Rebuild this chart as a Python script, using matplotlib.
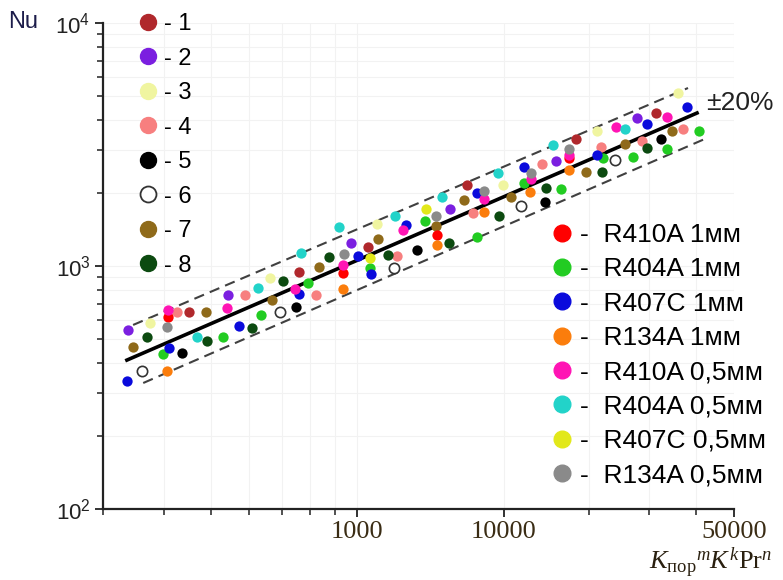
import numpy as np
import matplotlib
matplotlib.use("Agg")
import matplotlib.pyplot as plt
from matplotlib.lines import Line2D
from matplotlib.ticker import FixedLocator, FixedFormatter, NullFormatter

plt.rcParams['font.family'] = ['Liberation Sans', 'DejaVu Sans']
plt.rcParams['mathtext.fontset'] = 'custom'
plt.rcParams['mathtext.rm'] = 'Liberation Serif'
plt.rcParams['mathtext.it'] = 'Liberation Serif:italic'
plt.rcParams['mathtext.bf'] = 'Liberation Serif:bold'

# series 1..8 (legend on the left)
s1_x = [451, 761, 1188, 5602, 17990, 31310]
s1_nu = [647, 945, 1197, 2154, 3331, 4262]
s2_x = [338, 543, 974, 4293, 15280, 27660]
s2_nu = [545, 760, 1243, 1717, 2705, 4066]
s3_x = [375, 663, 1368, 9844, 21110, 35820]
s3_nu = [583, 893, 1489, 2154, 3594, 5151]
s4_x = [426, 589, 825, 1872, 6153, 13630, 21690, 28620, 36940]
s4_nu = [647, 760, 760, 1099, 1652, 2629, 3089, 3269, 3663]
s5_x = [437, 750, 2560, 13970, 32290]
s5_nu = [439, 678, 1163, 1834, 3331]
s6_x = [361, 695, 1785, 11490, 23840]
s6_nu = [370, 647, 981, 1766, 2731]
s7_x = [346, 489, 669, 836, 1389, 3447, 5344, 10590, 19510, 25510, 34530]
s7_nu = [464, 647, 725, 991, 1291, 1461, 1869, 1923, 2437, 3178, 3594]
s8_x = [370, 491, 609, 705, 877, 1625, 4226, 9247, 14080, 21840, 29600]
s8_nu = [510, 491, 556, 868, 1089, 1110, 1243, 1606, 2094, 2437, 3060]

# refrigerants (legend on the right)
r410a_1_x = [408, 937, 3501, 16990]
r410a_1_nu = [617, 936, 1341, 2783]
r404a_1_x = [399, 530, 635, 794, 1226, 2901, 6551, 11770, 15920, 21980, 26920, 33490, 40710]
r404a_1_nu = [434, 510, 629, 851, 981, 1532, 1316, 2196, 2075, 2783, 2809, 3031, 3594]
r407c_1_x = [336, 410, 572, 761, 1016, 1245, 2154, 6551, 11770, 21110, 29600, 37870]
r407c_1_nu = [336, 460, 566, 767, 1099, 927, 1475, 1997, 2555, 2862, 3841, 4511]
r134a_1_x = [407, 937, 3501, 7310, 12360, 16990]
r134a_1_nu = [370, 804, 1220, 1668, 2016, 2484]
r410a_05_x = [408, 541, 746, 937, 2056, 7310, 12460, 16990, 24010, 33490]
r410a_05_nu = [659, 672, 804, 1009, 1406, 1887, 2280, 2862, 3733, 4104]
r404a_05_x = [469, 626, 768, 920, 1813, 3786, 9103, 14910, 25510]
r404a_05_nu = [510, 812, 1131, 1447, 1606, 1923, 2414, 3148, 3663]
r407c_05_x = [1226, 2947]
r407c_05_nu = [1079, 1717]
r134a_05_x = [407, 942, 3447, 7310, 12460, 16990]
r134a_05_nu = [561, 1120, 1606, 2035, 2414, 3031]

# correlation line and band
fit_x = [336, 40240]
fit_nu = [410, 4262]
upper_x = [346, 38090]
upper_nu = [572, 5401]
lower_x = [363, 42670]
lower_nu = [330, 3363]

left_labels = ['- 1', '- 2', '- 3', '- 4', '- 5', '- 6', '- 7', '- 8']
right_labels = ['R410A 1мм', 'R404A 1мм', 'R407C 1мм', 'R134A 1мм',
                'R410A 0,5мм', 'R404A 0,5мм', 'R407C 0,5мм', 'R134A 0,5мм']
x_major = [1000, 10000, 50000]
x_major_labels = ['1000', '10000', '50000']
x_minor = [300, 400, 500, 600, 700, 800, 900, 20000, 30000, 40000]

# the x axis of the source figure is not uniformly logarithmic:
# piecewise-log mapping through the tick positions
LOG_KNOTS = np.log10([300, 1000, 10000, 20000, 30000, 40000, 50000])
PX_KNOTS = np.array([0, 254, 401, 486, 546, 593, 631], dtype=float)


def fwd(x):
    x = np.asarray(x, dtype=float)
    with np.errstate(divide='ignore', invalid='ignore'):
        lx = np.log10(np.where(x > 0, x, 1e-300))
    return np.interp(lx, LOG_KNOTS, PX_KNOTS)


def inv(v):
    return 10 ** np.interp(np.asarray(v, dtype=float), PX_KNOTS, LOG_KNOTS)


W, H = 783, 580
fig = plt.figure(figsize=(W / 100, H / 100), dpi=100)
ax = fig.add_axes([103 / W, 1 - 509 / H, 631 / W, 486 / H])
ax.set_xscale('function', functions=(fwd, inv))
ax.set_yscale('log')
ax.set_xlim(300, 50000)
ax.set_ylim(100, 10000)

ax.xaxis.set_major_locator(FixedLocator(x_major))
ax.xaxis.set_major_formatter(FixedFormatter(x_major_labels))
ax.xaxis.set_minor_locator(FixedLocator(x_minor))
ax.xaxis.set_minor_formatter(NullFormatter())

ax.grid(True, which='both', color='#f2f2f2', lw=0.8, zorder=0)
for s in ['top', 'right']:
    ax.spines[s].set_visible(False)
for s in ['left', 'bottom']:
    ax.spines[s].set_linewidth(1.6)
    ax.spines[s].set_color('#222222')
ax.tick_params(which='major', direction='out', length=6, width=1.3, colors='#222222')
ax.tick_params(which='minor', direction='out', length=4, width=1.1, colors='#222222')
ax.tick_params(axis='y', labelsize=16, pad=3)
ax.tick_params(axis='x', labelsize=19, pad=3, labelcolor='#3a2c14')
for lab in ax.get_xticklabels():
    lab.set_family('Liberation Serif')

ax.plot(fit_x, fit_nu, color='black', lw=2.6, zorder=2)
ax.plot(upper_x, upper_nu, color='#404040', lw=1.5, ls=(0, (5, 3)), zorder=2)
ax.plot(lower_x, lower_nu, color='#404040', lw=1.5, ls=(0, (5, 3)), zorder=2)

left_series = [
    (s1_x, s1_nu, '#b0282c'), (s2_x, s2_nu, '#7b1fe0'), (s3_x, s3_nu, '#f0f5a0'),
    (s4_x, s4_nu, '#f77f7f'), (s5_x, s5_nu, '#000000'), (s6_x, s6_nu, 'white'),
    (s7_x, s7_nu, '#8f6a1a'), (s8_x, s8_nu, '#0c4a10'),
]
right_series = [
    (r410a_1_x, r410a_1_nu, '#ff0000'), (r404a_1_x, r404a_1_nu, '#22cc22'),
    (r407c_1_x, r407c_1_nu, '#0a0adc'), (r134a_1_x, r134a_1_nu, '#fb7d0c'),
    (r410a_05_x, r410a_05_nu, '#ff14b4'), (r404a_05_x, r404a_05_nu, '#22d3c9'),
    (r407c_05_x, r407c_05_nu, '#e2e81a'), (r134a_05_x, r134a_05_nu, '#8a8a8a'),
]
ms = 55
for x, y, c in left_series + right_series:
    if c == 'white':
        ax.scatter(x, y, s=ms, facecolor='white', edgecolor='#333333', lw=1.2, zorder=3)
    else:
        ax.scatter(x, y, s=ms, color=c, lw=0, zorder=3)

ax.text(42420, 4687, '±20%', fontsize=19, ha='left', va='center', color='#222222')

h1 = []
for (_, _, c), lab in zip(left_series, left_labels):
    if c == 'white':
        h1.append(Line2D([], [], ls='', marker='o', ms=11.5, mfc='white', mec='#333333', mew=1.3, label=lab))
    else:
        h1.append(Line2D([], [], ls='', marker='o', ms=11.5, mfc=c, mec=c, label=lab))
leg1 = ax.legend(handles=h1, loc='upper left', bbox_to_anchor=(136 / W, 1 - 13 / H),
                 bbox_transform=fig.transFigure, frameon=False, fontsize=17,
                 handlelength=1.0, handletextpad=0.2, labelspacing=0.53,
                 borderpad=0, borderaxespad=0)
ax.add_artist(leg1)

h2 = [Line2D([], [], ls='', marker='o', ms=12, mfc=c, mec=c, label='-  ' + lab)
      for (_, _, c), lab in zip(right_series, right_labels)]
ax.legend(handles=h2, loc='upper left', bbox_to_anchor=(549 / W, 1 - 223 / H),
          bbox_transform=fig.transFigure, frameon=False, fontsize=19,
          handlelength=1.0, handletextpad=0.17, labelspacing=0.39,
          borderpad=0, borderaxespad=0)

fig.text(8 / W, 1 - 22 / H, 'Nu', fontsize=17, color='#1c1c4a', va='center', ha='left')
fig.text(772 / W, 1 - 569 / H, r'$K_{\mathrm{пор}}{}^{m}K^{k}\mathrm{Pr}^{n}$',
         fontsize=19, color='#2a2010', ha='right', va='baseline')

fig.savefig('out.png', dpi=100)
